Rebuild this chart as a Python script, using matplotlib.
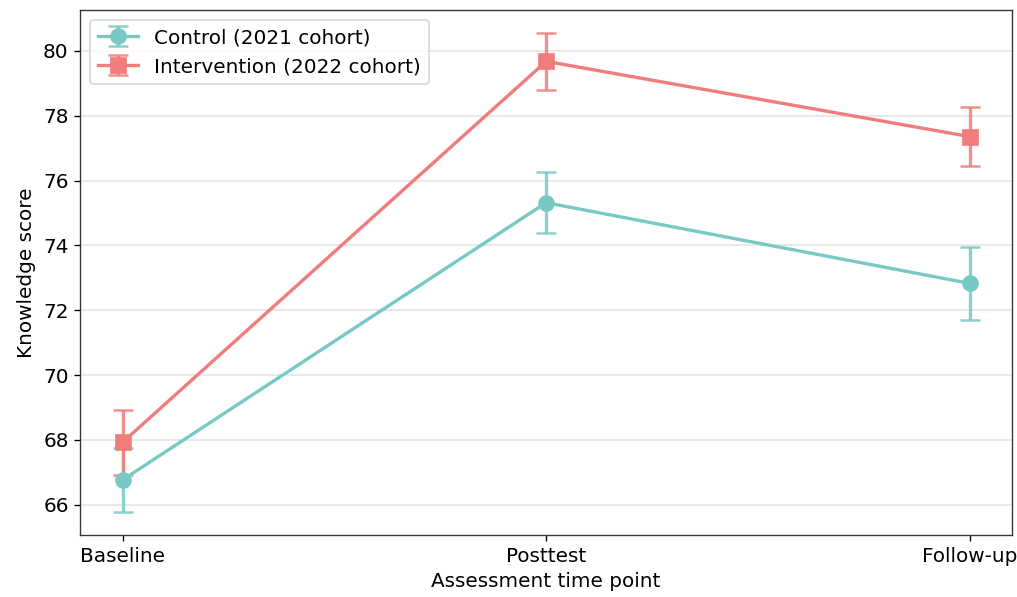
import matplotlib
matplotlib.use("Agg")
import matplotlib.pyplot as plt
import numpy as np

timepoints = ["Baseline", "Posttest", "Follow-up"]
control_mean = [66.77, 75.32, 72.83]
control_err = [0.99, 0.94, 1.13]
interv_mean = [67.93, 79.68, 77.36]
interv_err = [1.0, 0.87, 0.92]

teal = "#78c9c4"
red = "#f07c7b"

fig, ax = plt.subplots(figsize=(1017 / 120, 597 / 120), dpi=120)
x = np.arange(len(timepoints))
for mean, err, col, mk, lab in [
    (control_mean, control_err, teal, "o", "Control (2021 cohort)"),
    (interv_mean, interv_err, red, "s", "Intervention (2022 cohort)"),
]:
    cont = ax.errorbar(x, mean, yerr=err, color=col, marker=mk, markersize=9,
                       linewidth=2, capsize=6, elinewidth=2, capthick=1.5, ecolor=col,
                       label=lab)
    for c in cont[1]:
        c.set_alpha(0.85)
    for c in cont[2]:
        c.set_alpha(0.85)

ax.set_xticks(x)
ax.set_xticklabels(timepoints, fontsize=12)
ax.set_yticks([66, 68, 70, 72, 74, 76, 78, 80])
ax.tick_params(axis="y", labelsize=12)
ax.set_ylim(65.07, 81.26)
ax.set_xlabel("Assessment time point", fontsize=12)
ax.set_ylabel("Knowledge score", fontsize=12)
ax.yaxis.grid(True, color="#e5e5e5", linewidth=1)
ax.set_axisbelow(True)
for s in ax.spines.values():
    s.set_color("#333333")
ax.legend(loc="upper left", fontsize=12)
fig.subplots_adjust(left=0.079, right=0.995, top=0.983, bottom=0.104)
fig.savefig("out.png", dpi=120)
